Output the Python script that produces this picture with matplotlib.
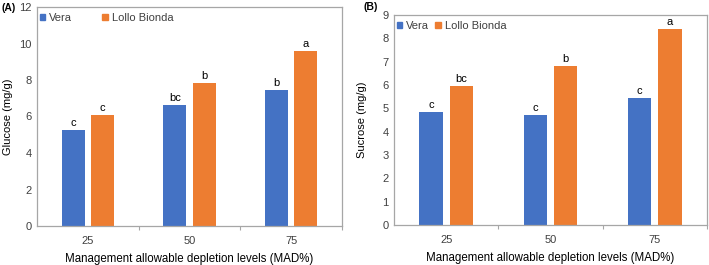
import numpy as np
import matplotlib
matplotlib.use("Agg")
import matplotlib.pyplot as plt
from matplotlib.patches import Patch

plt.rcParams['font.family'] = ['Liberation Sans', 'DejaVu Sans']

# ── data ──────────────────────────────────────────────────────────────────────
levels      = ["25", "50", "75"]
series      = ["Vera", "Lollo Bionda"]
glucose_v   = [5.26, 6.65, 7.43]
glucose_lb  = [6.08, 7.82, 9.60]
glucose_let_v  = ["c", "bc", "b"]
glucose_let_lb = ["c", "b", "a"]
sucrose_v   = [4.83, 4.72, 5.46]
sucrose_lb  = [5.94, 6.83, 8.39]
sucrose_let_v  = ["c", "c", "c"]
sucrose_let_lb = ["bc", "b", "a"]

BLUE   = "#4472C4"
ORANGE = "#ED7D31"
FRAME  = "#A6A6A6"
TXT    = "#404040"

W, H = 709, 265
fig = plt.figure(figsize=(W / 100, H / 100), dpi=100)


def px_axes(l, r, t, b):
    return fig.add_axes([l / W, 1 - b / H, (r - l) / W, (b - t) / H])


def panel(ax, v, lb, let_v, let_lb, ymax, ylabel, colsp, ylpad):
    x = np.arange(len(levels))
    bw, off = 0.225, 0.145
    bv = ax.bar(x - off, v, bw, color=BLUE)
    bl = ax.bar(x + off, lb, bw, color=ORANGE)
    for bars, labs in ((bv, let_v), (bl, let_lb)):
        for r, s in zip(bars, labs):
            ax.annotate(s, (r.get_x() + r.get_width() / 2, r.get_height()),
                        xytext=(0, 1.5), textcoords="offset points",
                        ha="center", va="bottom", fontsize=8, color="black")
    ax.set_xlim(-0.5, len(levels) - 0.5)
    ax.set_ylim(0, ymax)
    ax.set_yticks(np.arange(0, ymax + 0.1, 1 if ymax < 10 else 2))
    ax.set_xticks(x, levels)
    ax.set_xticks(np.arange(0.5, len(levels) - 0.4, 1), minor=True)
    ax.tick_params(axis="x", which="major", length=0, pad=7, labelsize=8, labelcolor=TXT)
    ax.tick_params(axis="x", which="minor", length=3, width=0.8, color=FRAME, direction="out")
    ax.tick_params(axis="y", length=0, pad=4, labelsize=8, labelcolor=TXT)
    for sp in ax.spines.values():
        sp.set_color(FRAME); sp.set_linewidth(0.9)
    ax.set_ylabel(ylabel, fontsize=8, color="black", labelpad=ylpad)
    ax.set_xlabel("Management allowable depletion levels (MAD%)", fontsize=8.3,
                  color="black", labelpad=5.5)
    ax.legend([Patch(color=BLUE), Patch(color=ORANGE)], series, loc="upper left",
              ncol=2, frameon=False, fontsize=8, handlelength=0.5, handleheight=0.5,
              handletextpad=0.35, columnspacing=colsp, borderaxespad=0.0,
              borderpad=0.25, bbox_to_anchor=(0.0, 0.985), labelcolor=TXT)


axA = px_axes(37, 342, 7, 226)
panel(axA, glucose_v, glucose_lb, glucose_let_v, glucose_let_lb, 12,
      "Glucose (mg/g)", 2.7, 4)
axB = px_axes(394, 707, 15, 225)
panel(axB, sucrose_v, sucrose_lb, sucrose_let_v, sucrose_let_lb, 9,
      "Sucrose (mg/g)", 0.55, 11)

fig.text(2 / W, 1 - 8 / H, "(A)", fontsize=7.5, fontweight="bold", ha="left", va="center")
fig.text(363 / W, 1 - 7 / H, "(B)", fontsize=7.5, fontweight="bold", ha="left", va="center")

fig.savefig("out.png", dpi=100)
